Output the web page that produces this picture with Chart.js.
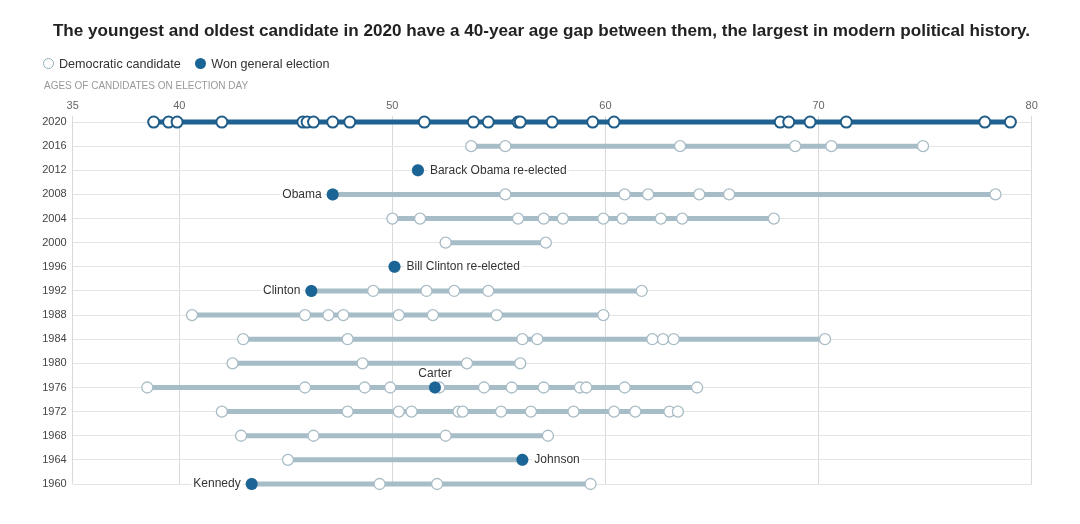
<!DOCTYPE html>
<html>
<head>
<meta charset="utf-8">
<script src="https://cdn.jsdelivr.net/npm/chart.js@4.4.0/dist/chart.umd.min.js"></script>
<style>
    body { margin: 0; background: #fff; font-family: "Liberation Sans", Arial, sans-serif; }
    #wrap { position: relative; width: 1080px; height: 524px; }
    #titulo { position: absolute; left: 0; top: 21px; width: 1083px; text-align: center; font-size: 17.1px; font-weight: bold; color: #222; }
    #legenda { position: absolute; left: 43px; top: 56px; font-size: 12.6px; color: #333; }
    #legenda span { display: inline-block; vertical-align: middle; }
    .bola { width: 11px; height: 11px; border-radius: 50%; margin-right: 5px; box-sizing: border-box; }
    .aberta { border: 1.5px solid #94afbd; background: #fff; }
    .cheia { background: #1a6596; margin-left: 11px; }
    #subtitulo { position: absolute; left: 44px; top: 80px; font-size: 10px; color: #999; letter-spacing: 0px; }
    canvas { position: absolute; left: 0; top: 0; }
</style>
</head>
<body>
<div id="wrap">
    <canvas id="chart_idades" width="1080" height="524"></canvas>
    <div id="titulo">The youngest and oldest candidate in 2020 have a 40-year age gap between them, the largest in modern political history.</div>
    <div id="legenda">
        <span class="bola aberta"></span><span>Democratic candidate</span>
        <span class="bola cheia"></span><span>Won general election</span>
    </div>
    <div id="subtitulo">AGES OF CANDIDATES ON ELECTION DAY</div>
</div>
<script>
const anos = [2020, 2016, 2012, 2008, 2004, 2000, 1996, 1992, 1988, 1984, 1980, 1976, 1972, 1968, 1964, 1960];
const ticks_idade = [35, 40, 50, 60, 70, 80];

// idades dos candidatos democratas em cada eleicao
const idades2020 = [38.8, 39.5, 39.9, 42.0, 45.8, 46.0, 46.3, 47.2, 48.0, 51.5, 53.8, 54.5, 55.9, 56.0, 57.5, 59.4, 60.4, 68.2, 68.6, 69.6, 71.3, 77.8, 79.0];
const idades2016 = [53.7, 55.3, 63.5, 68.9, 70.6, 74.9];
const idades2012 = [];
const idades2008 = [55.3, 60.9, 62.0, 64.4, 65.8, 78.3];
const idades2004 = [50.0, 51.3, 55.9, 57.1, 58.0, 59.9, 60.8, 62.6, 63.6, 67.9];
const idades2000 = [52.5, 57.2];
const idades1996 = [];
const idades1992 = [49.1, 51.6, 52.9, 54.5, 61.7];
const idades1988 = [40.6, 45.9, 47.0, 47.7, 50.3, 51.9, 54.9, 59.9];
const idades1984 = [43.0, 47.9, 56.1, 56.8, 62.2, 62.7, 63.2, 70.3];
const idades1980 = [42.5, 48.6, 53.5, 56.0];
const idades1976 = [38.5, 45.9, 48.7, 49.9, 52.2, 54.3, 55.6, 57.1, 58.8, 59.1, 60.9, 64.3];
const idades1972 = [42.0, 47.9, 50.3, 50.9, 53.1, 53.3, 55.1, 56.5, 58.5, 60.4, 61.4, 63.0, 63.4];
const idades1968 = [42.9, 46.3, 52.5, 57.3];
const idades1964 = [45.1];
const idades1960 = [49.4, 52.1, 59.3];

const lista_idades = [idades2020, idades2016, idades2012, idades2008, idades2004, idades2000, idades1996, idades1992,
    idades1988, idades1984, idades1980, idades1976, idades1972, idades1968, idades1964, idades1960];

// vencedores (mesma ordem de anos)
const idade_vencedor = [null, null, 51.2, 47.2, null, null, 50.1, 46.2, null, null, null, 52.0, null, null, 56.1, 43.4];
const nome_vencedor = ['', '', 'Barack Obama re-elected', 'Obama', '', '', 'Bill Clinton re-elected', 'Clinton', '', '', '', 'Carter', '', '', 'Johnson', 'Kennedy'];
const lado_rotulo = ['', '', 'right', 'left', '', '', 'right', 'left', '', '', '', 'top', '', '', 'right', 'left'];

var datasets = [];

// pontos dos vencedores (order 0 = desenhado por cima)
var pontos_vencedor = [];
for (var i = 0; i < anos.length; i++) {
    if (idade_vencedor[i] != null) {
        pontos_vencedor.push({ x: idade_vencedor[i], y: anos[i] });
    }
}
datasets.push({
    data: pontos_vencedor,
    showLine: false,
    pointRadius: 6,
    pointBackgroundColor: '#1a6596',
    pointBorderColor: '#1a6596',
    pointBorderWidth: 0,
    order: 0,
    clip: false
});

for (var i = 0; i < anos.length; i++) {
    var todas = lista_idades[i].slice();
    if (idade_vencedor[i] != null) todas.push(idade_vencedor[i]);
    if (todas.length == 0) continue;
    todas.sort(function (a, b) { return a - b; });

    var pontos = todas.map(function (v) { return { x: v, y: anos[i] }; });
    var destaque = anos[i] == 2020;

    datasets.push({
        data: pontos,
        showLine: true,
        borderColor: destaque ? '#1f6291' : '#a6bdc8',
        borderWidth: 5,
        pointRadius: 5.5,
        pointBackgroundColor: '#fff',
        pointBorderColor: destaque ? '#1f5c87' : '#a9bcc6',
        pointBorderWidth: destaque ? 2 : 1.3,
        order: 1,
        clip: false
    });
}

const rotulos = {
    id: 'rotulos',
    afterDatasetsDraw(chart) {
        const ctx = chart.ctx;
        const sx = chart.scales.x;
        const sy = chart.scales.y;
        ctx.save();
        ctx.font = '12px "Liberation Sans", Arial, sans-serif';
        ctx.textBaseline = 'middle';
        for (var i = 0; i < anos.length; i++) {
            if (!nome_vencedor[i]) continue;
            var px = sx.getPixelForValue(idade_vencedor[i]);
            var py = sy.getPixelForValue(anos[i]);
            var w = ctx.measureText(nome_vencedor[i]).width;
            var tx, ty = py;
            if (lado_rotulo[i] == 'right') {
                tx = px + 12;
            } else if (lado_rotulo[i] == 'left') {
                tx = px - 11 - w;
            } else {
                tx = px - w / 2;
                ty = py - 14;
            }
            ctx.fillStyle = '#fff';
            ctx.fillRect(tx - 2, ty - 7, w + 4, 14);
            ctx.fillStyle = '#333';
            ctx.textAlign = 'left';
            ctx.fillText(nome_vencedor[i], tx, ty);
        }
        ctx.restore();
    }
};

new Chart(document.getElementById('chart_idades'), {
    type: 'scatter',
    data: { datasets: datasets },
    options: {
        responsive: false,
        animation: false,
        layout: { padding: { left: 0, right: 48.3, top: 96, bottom: 40 } },
        plugins: {
            legend: { display: false },
            tooltip: { enabled: false }
        },
        scales: {
            x: {
                type: 'linear',
                position: 'top',
                min: 35,
                max: 80,
                afterBuildTicks: function (scale) {
                    scale.ticks = ticks_idade.map(function (v) { return { value: v }; });
                },
                afterFit: function (scale) { scale.height = 20; },
                ticks: {
                    color: '#666',
                    padding: 3,
                    font: { size: 11, family: '"Liberation Sans", Arial, sans-serif' },
                    callback: function (v) { return String(v); }
                },
                grid: { color: '#dadada', drawTicks: false },
                border: { display: false }
            },
            y: {
                type: 'linear',
                min: 1960,
                max: 2021,
                afterBuildTicks: function (scale) {
                    scale.ticks = anos.map(function (v) { return { value: v }; });
                },
                afterFit: function (scale) { scale.width = 72.7; },
                ticks: {
                    color: '#444',
                    padding: 6,
                    font: { size: 11, family: '"Liberation Sans", Arial, sans-serif' },
                    callback: function (v) { return String(v); }
                },
                grid: { color: '#e4e4e4', drawTicks: false },
                border: { display: false }
            }
        }
    },
    plugins: [rotulos]
});
</script>
</body>
</html>
